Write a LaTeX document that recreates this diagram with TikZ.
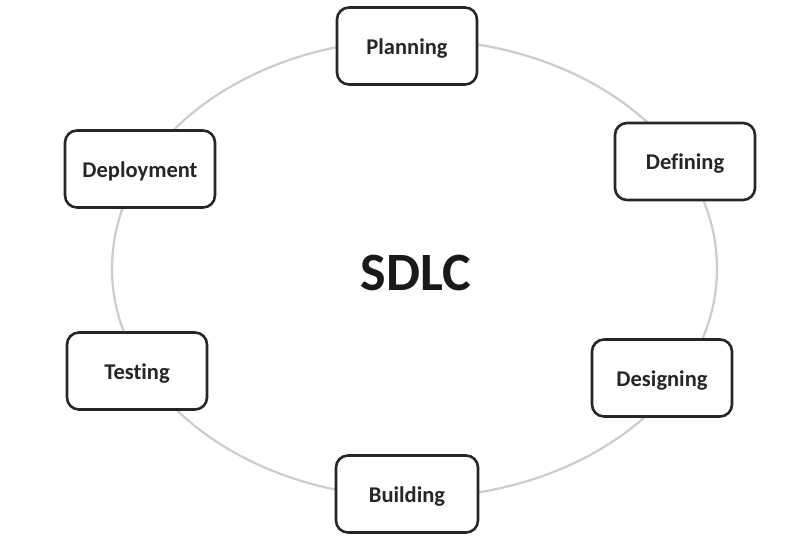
\documentclass[tikz,border=0pt]{standalone}
\usepackage{fontspec}
\setmainfont{Carlito}[Ligatures={NoCommon}]
\begin{document}
\begin{tikzpicture}[x=1pt,y=-1pt,
  phase/.style={draw=black!85, line width=2.6pt, rounded corners=12pt, fill=white,
    minimum width=140pt, minimum height=77pt, inner sep=0pt,
    text height=16pt, text depth=0pt,
    font=\fontsize{22.5}{26}\selectfont\bfseries, text=black!85},
  ring/.style={draw=black!20, line width=2.2pt}]
\useasboundingbox (0,0) rectangle (803,539);
\draw[ring] (414.5,268.5) ellipse [x radius=302.5pt, y radius=229pt];
\node[phase] (plan) at (407,46) {Planning};
\node[phase] (def) at (685,161.5) {Defining};
\node[phase] (des) at (662,378) {Designing};
\node[phase, minimum width=142pt] (build) at (407,494) {Building};
\node[phase] (test) at (137,371) {Testing};
\node[phase, minimum width=150pt] (dep) at (140,169) {Deployment};
\node[font=\fontsize{54}{60}\selectfont\bfseries, text=black!90] (sdlc) at (416,273) {SDLC};
\end{tikzpicture}
\end{document}
